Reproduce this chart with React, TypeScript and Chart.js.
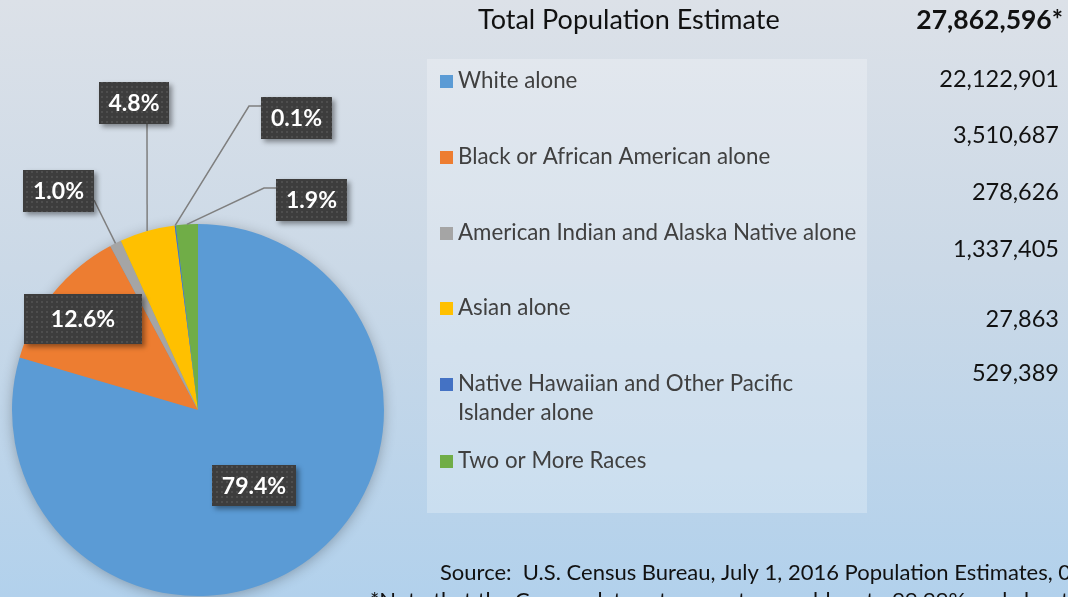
import React, { useEffect, useRef } from 'react';
import Chart from 'chart.js/auto';

// ---------- data ----------
const categories = [
  'White alone',
  'Black or African American alone',
  'American Indian and Alaska Native alone',
  'Asian alone',
  'Native Hawaiian and Other Pacific Islander alone',
  'Two or More Races',
];
const populations = [22122901, 3510687, 278626, 1337405, 27863, 529389];
const totalPopulation = 27862596;
const sliceColors = ['#5B9BD5', '#ED7D31', '#A5A5A5', '#FFC000', '#4472C4', '#70AD47'];
const legendLines = [
  ['White alone'],
  ['Black or African American alone'],
  ['American Indian and Alaska Native alone'],
  ['Asian alone'],
  ['Native Hawaiian and Other Pacific', 'Islander alone'],
  ['Two or More Races'],
];
const titleText = 'Total Population Estimate';
const totalText = '27,862,596*';
const sourceText = 'Source:  U.S. Census Bureau, July 1, 2016 Population Estimates, 06/2017';
const noteText = '*Note that the Census data set percentages add up to 99.99% and about 100%';

// ---------- layout ----------
const W = 1068;
const H = 597;
const FONT = 'Lato, "Open Sans", sans-serif';
const legendY = [81, 157, 233, 308, 384, 461];
const legendLineH = 29;
const valueY = [79, 135, 192, 249, 319, 373];
const labelBoxes = [
  { x: 212, y: 465, w: 84, h: 41 },
  { x: 24, y: 294, w: 118, h: 50 },
  { x: 23, y: 170, w: 71, h: 42 },
  { x: 99, y: 82, w: 70, h: 42 },
  { x: 261, y: 97, w: 71, h: 42 },
  { x: 276, y: 179, w: 71, h: 42 },
];
const leaderStarts: Record<number, number[][]> = {
  2: [[94, 200]],
  3: [[147, 124]],
  4: [[261, 106], [249, 106]],
  5: [[276, 188], [264, 188]],
};

function makePattern(ctx: CanvasRenderingContext2D) {
  const c = document.createElement('canvas');
  c.width = 5;
  c.height = 5;
  const p = c.getContext('2d')!;
  p.fillStyle = '#3D3D3D';
  p.fillRect(0, 0, 5, 5);
  p.fillStyle = '#4E4E4E';
  p.fillRect(1, 1, 2, 2);
  return ctx.createPattern(c, 'repeat');
}

const decorPlugin = {
  id: 'decor',
  beforeDraw(chart: any) {
    const ctx: CanvasRenderingContext2D = chart.ctx;
    ctx.save();
    const g = ctx.createLinearGradient(0, 0, 0, H);
    g.addColorStop(0, '#DCE1E8');
    g.addColorStop(0.45, '#CBD9E7');
    g.addColorStop(1, '#B2D1EC');
    ctx.fillStyle = g;
    ctx.fillRect(0, 0, W, H);

    // legend panel
    ctx.fillStyle = 'rgba(255,255,255,0.25)';
    ctx.fillRect(427, 59, 440, 454);

    // title
    ctx.fillStyle = '#111111';
    ctx.textBaseline = 'middle';
    ctx.textAlign = 'left';
    ctx.font = `27px ${FONT}`;
    ctx.fillText(titleText, 478, 20);
    ctx.textAlign = 'right';
    ctx.font = `bold 26.5px ${FONT}`;
    ctx.fillText(totalText, 1063, 20);

    // legend
    ctx.textAlign = 'left';
    ctx.font = `22.3px ${FONT}`;
    categories.forEach((_, i) => {
      ctx.fillStyle = sliceColors[i];
      ctx.fillRect(440, legendY[i] - 6, 13, 13);
      ctx.fillStyle = '#404040';
      legendLines[i].forEach((line, j) => {
        ctx.fillText(line, 458, legendY[i] + j * legendLineH);
      });
    });

    // values
    ctx.textAlign = 'right';
    ctx.fillStyle = '#111111';
    ctx.font = `23.5px ${FONT}`;
    populations.forEach((v, i) => {
      ctx.fillText(v.toLocaleString('en-US'), 1059, valueY[i]);
    });

    // source / note
    ctx.textAlign = 'left';
    ctx.font = `22px ${FONT}`;
    ctx.fillText(sourceText, 440, 573);
    ctx.fillText(noteText, 370, 601);
    ctx.restore();
  },
  beforeDatasetsDraw(chart: any) {
    const ctx: CanvasRenderingContext2D = chart.ctx;
    const el = chart.getDatasetMeta(0).data[0];
    if (!el) return;
    const { x, y, outerRadius } = el.getProps(['x', 'y', 'outerRadius'], true);
    ctx.save();
    ctx.shadowColor = 'rgba(0,0,0,0.3)';
    ctx.shadowBlur = 14;
    ctx.shadowOffsetX = 0;
    ctx.shadowOffsetY = 2;
    ctx.fillStyle = sliceColors[0];
    ctx.beginPath();
    ctx.arc(x, y, outerRadius - 1, 0, Math.PI * 2);
    ctx.fill();
    ctx.restore();
  },
  afterDatasetsDraw(chart: any) {
    const ctx: CanvasRenderingContext2D = chart.ctx;
    const meta = chart.getDatasetMeta(0);
    ctx.save();
    // leader lines
    ctx.strokeStyle = '#7F7F7F';
    ctx.lineWidth = 1.5;
    Object.keys(leaderStarts).forEach((k) => {
      const i = Number(k);
      const el = meta.data[i];
      const { x, y, startAngle, endAngle, outerRadius } = el.getProps(
        ['x', 'y', 'startAngle', 'endAngle', 'outerRadius'],
        true
      );
      const mid = (startAngle + endAngle) / 2;
      const px = x + Math.cos(mid) * outerRadius;
      const py = y + Math.sin(mid) * outerRadius;
      const pts = leaderStarts[i];
      ctx.beginPath();
      ctx.moveTo(pts[0][0], pts[0][1]);
      for (let j = 1; j < pts.length; j++) ctx.lineTo(pts[j][0], pts[j][1]);
      ctx.lineTo(px, py);
      ctx.stroke();
    });

    // label boxes
    const pattern = makePattern(ctx);
    populations.forEach((v, i) => {
      const b = labelBoxes[i];
      ctx.save();
      ctx.shadowColor = 'rgba(0,0,0,0.4)';
      ctx.shadowBlur = 5;
      ctx.shadowOffsetX = 3;
      ctx.shadowOffsetY = 3;
      ctx.fillStyle = '#3D3D3D';
      ctx.fillRect(b.x, b.y, b.w, b.h);
      ctx.restore();
      ctx.fillStyle = pattern || '#3D3D3D';
      ctx.fillRect(b.x, b.y, b.w, b.h);
      ctx.fillStyle = '#FFFFFF';
      ctx.font = `bold 23px ${FONT}`;
      ctx.textAlign = 'center';
      ctx.textBaseline = 'middle';
      const pct = ((v / totalPopulation) * 100).toFixed(1) + '%';
      ctx.fillText(pct, b.x + b.w / 2, b.y + b.h / 2 + 1);
    });
    ctx.restore();
  },
};

export default function App() {
  const ref = useRef<HTMLCanvasElement | null>(null);
  useEffect(() => {
    document.body.style.margin = '0';
    document.body.style.overflow = 'hidden';
    const canvas = ref.current!;
    const chart = new Chart(canvas, {
      type: 'pie',
      data: {
        labels: categories,
        datasets: [
          {
            data: populations,
            backgroundColor: sliceColors,
            borderWidth: 0,
            hoverOffset: 0,
            offset: 0,
          },
        ],
      },
      options: {
        responsive: false,
        animation: false,
        devicePixelRatio: 1,
        events: [],
        layout: { padding: { left: 12, top: 224, right: 684, bottom: 1 } },
        plugins: {
          legend: { display: false },
          tooltip: { enabled: false },
          title: { display: false },
        },
      },
      plugins: [decorPlugin],
    } as any);
    return () => chart.destroy();
  }, []);
  return (
    <canvas
      ref={ref}
      width={W}
      height={H}
      style={{ display: 'block', width: W, height: H }}
    />
  );
}
